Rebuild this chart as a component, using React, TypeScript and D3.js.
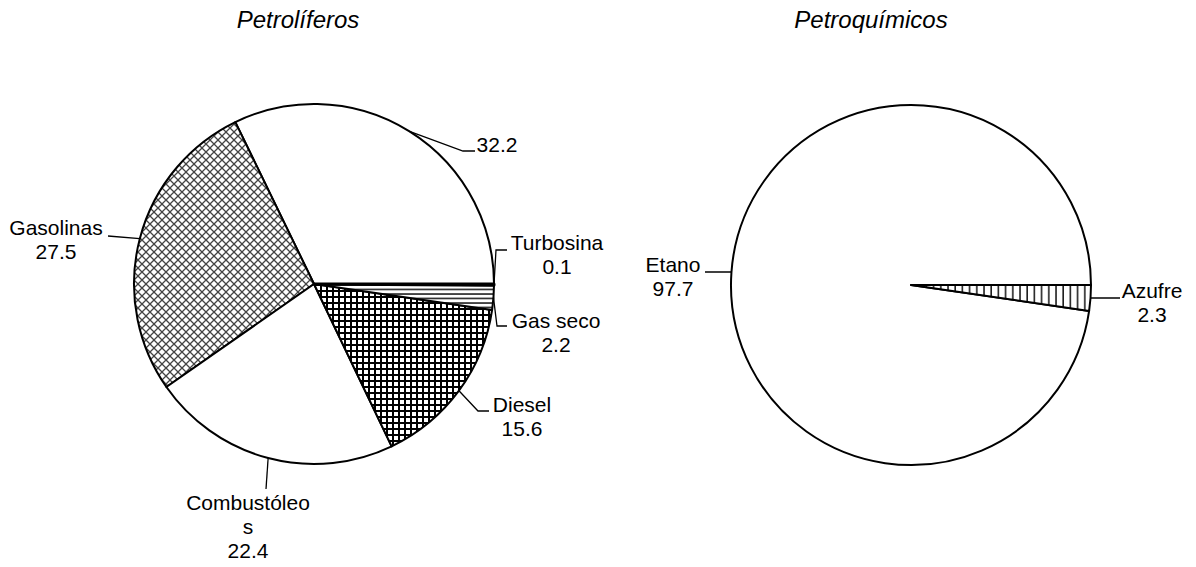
import React from 'react';
import * as d3 from 'd3';

// Petrolíferos (left pie), counterclockwise from 3 o'clock
const petroNames = ['', 'Gasolinas', 'Combustóleos', 'Diesel', 'Gas seco', 'Turbosina'];
const petroValues = [32.2, 27.5, 22.4, 15.6, 2.2, 0.1];
const petroFills = ['white', 'url(#diagCross)', 'white', 'url(#grid)', 'url(#hLines)', 'black'];

// Petroquímicos (right pie)
const quimNames = ['Etano', 'Azufre'];
const quimValues = [97.7, 2.3];
const quimFills = ['white', 'url(#vLines)'];

const titles = ['Petrolíferos', 'Petroquímicos'];

const W = 1196;
const H = 567;
const R = 180;
const FONT = 'Liberation Sans, Arial, Helvetica, sans-serif';
const LINE_H = 24;

// label placement: elbow (optional), leader end, text centre x, first baseline
type LabelPos = { elbow?: [number, number]; end: [number, number]; cx: number; y: number };

const petroLabelPos: LabelPos[] = [
  { elbow: [463, 151], end: [475, 151], cx: 497, y: 152 },
  { end: [108, 236], cx: 56, y: 235 },
  { end: [266, 489], cx: 248, y: 510 },
  { elbow: [478, 411], end: [489, 411], cx: 522, y: 412 },
  { elbow: [497, 326], end: [507, 326], cx: 556, y: 328 },
  { elbow: [496, 250], end: [507, 250], cx: 557, y: 250 },
];

const quimLabelPos: LabelPos[] = [
  { end: [705, 272], cx: 673, y: 272 },
  { end: [1120, 298], cx: 1152, y: 298 },
];

const wrap = (s: string, n = 11) => {
  if (!s) return [];
  const out: string[] = [];
  for (let i = 0; i < s.length; i += n) out.push(s.slice(i, i + n));
  return out;
};

const pie = d3
  .pie<number>()
  .sort(null)
  .startAngle(Math.PI / 2)
  .endAngle(Math.PI / 2 - 2 * Math.PI);

const arc = d3.arc<d3.PieArcDatum<number>>().innerRadius(0).outerRadius(R);

function Pie({ cx, cy, names, values, fills, labels, title, titleX }: any) {
  const arcs = pie(values);
  return (
    <g>
      <text
        x={titleX}
        y={28}
        textAnchor="middle"
        fontStyle="italic"
        fontSize={24}
        fontFamily={FONT}
        fill="#000"
      >
        {title}
      </text>
      <g transform={`translate(${cx},${cy})`}>
        {arcs.map((a, i) => (
          <path
            key={i}
            d={arc(a) || ''}
            fill={fills[i]}
            stroke="#000"
            strokeWidth={fills[i] === 'black' ? 3 : 2}
            strokeLinejoin="round"
          />
        ))}
      </g>
      {arcs.map((a, i) => {
        const mid = (a.startAngle + a.endAngle) / 2;
        const sx = cx + R * Math.sin(mid);
        const sy = cy - R * Math.cos(mid);
        const p = labels[i] as LabelPos;
        const pts: [number, number][] = [[sx, sy]];
        if (p.elbow) pts.push(p.elbow);
        pts.push(p.end);
        const lines = [...wrap(names[i]), d3.format('.1f')(values[i])];
        return (
          <g key={'l' + i}>
            <path d={d3.line()(pts) || ''} fill="none" stroke="#000" strokeWidth={1.3} />
            <text textAnchor="middle" fontSize={21} fontFamily={FONT} fill="#000">
              {lines.map((t, j) => (
                <tspan key={j} x={p.cx} y={p.y + j * LINE_H}>
                  {t}
                </tspan>
              ))}
            </text>
          </g>
        );
      })}
    </g>
  );
}

export default function App() {
  return (
    <svg
      width={W}
      height={H}
      style={{ position: 'absolute', left: 0, top: 0, background: '#fff' }}
    >
      <defs>
        <pattern id="diagCross" width={8} height={8} patternUnits="userSpaceOnUse">
          <rect width={8} height={8} fill="#fff" />
          <path d="M0,0L8,8M8,0L0,8" stroke="#444" strokeWidth={1.3} />
        </pattern>
        <pattern id="grid" width={6} height={6} patternUnits="userSpaceOnUse">
          <rect width={6} height={6} fill="#fff" />
          <path d="M0,1H6M1,0V6" stroke="#000" strokeWidth={2} />
        </pattern>
        <pattern id="hLines" width={6} height={4.5} patternUnits="userSpaceOnUse">
          <rect width={6} height={4.5} fill="#fff" />
          <path d="M0,1H6" stroke="#000" strokeWidth={1.4} />
        </pattern>
        <pattern id="vLines" width={7.2} height={6} patternUnits="userSpaceOnUse">
          <rect width={7.2} height={6} fill="#fff" />
          <path d="M1,0V6" stroke="#000" strokeWidth={1.4} />
        </pattern>
      </defs>
      <Pie
        cx={314}
        cy={284}
        names={petroNames}
        values={petroValues}
        fills={petroFills}
        labels={petroLabelPos}
        title={titles[0]}
        titleX={298}
      />
      <Pie
        cx={911}
        cy={285}
        names={quimNames}
        values={quimValues}
        fills={quimFills}
        labels={quimLabelPos}
        title={titles[1]}
        titleX={871}
      />
    </svg>
  );
}
